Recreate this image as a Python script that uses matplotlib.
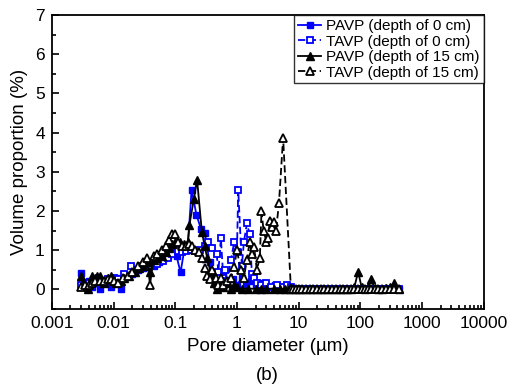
import matplotlib
matplotlib.use("Agg")
import matplotlib.pyplot as plt
import matplotlib.ticker as ticker
import numpy as np

plt.rcParams['font.family'] = ['Liberation Sans', 'DejaVu Sans']

# shared tail diameters (um), coarse pores beyond ~8 um
tail_d = [8, 9, 10, 11.5, 13, 15, 17, 20, 23, 26, 30, 35, 40, 46, 53, 60,
          70, 80, 92, 105, 120, 135, 150, 170, 195, 225, 260, 300, 350, 420]

# PAVP, depth 0 cm
pavp0_d = [0.003, 0.0035, 0.004, 0.0045, 0.005, 0.006, 0.007, 0.008, 0.009,
           0.011, 0.013, 0.016, 0.02, 0.025, 0.03, 0.036, 0.045, 0.055,
           0.065, 0.075, 0.09, 0.105, 0.122, 0.14, 0.16, 0.184, 0.221,
           0.26, 0.30, 0.36, 0.42, 0.5, 0.6, 0.7, 0.85, 1.0, 1.2, 1.4, 1.7,
           2.0, 2.4, 2.9, 3.5, 4.2, 5, 6, 7] + tail_d
pavp0_v = [0.42, 0.1, 0.2, 0.05, 0.15, 0.0, 0.2, 0.15, 0.05,
           0.3, 0.0, 0.35, 0.4, 0.5, 0.55, 0.65, 0.6, 0.7,
           0.8, 0.85, 1.0, 0.85, 0.43, 1.0, 1.1, 2.54, 1.9,
           1.55, 1.45, 0.7, 0.3, 0.2, 0.35, 0.15, 0.25, 0.1, 0.3, 0.12, 0.2,
           0.1, 0.15, 0.08, 0.05, 0.1, 0.05, 0.03, 0.03] + \
          [0.02, 0.02, 0.01, 0.02, 0.01, 0.01, 0.02, 0.01, 0.01, 0.01, 0.01,
           0.01, 0.01, 0.01, 0.01, 0.01, 0.01, 0.01, 0.02, 0.01, 0.01, 0.01,
           0.02, 0.01, 0.01, 0.01, 0.01, 0.01, 0.02, 0.01]

# TAVP, depth 0 cm
tavp0_d = [0.003, 0.0035, 0.004, 0.0045, 0.005, 0.006, 0.007, 0.008, 0.01,
           0.012, 0.015, 0.019, 0.024, 0.029, 0.034, 0.04, 0.05, 0.063,
           0.075, 0.09, 0.11, 0.13, 0.15, 0.18, 0.21, 0.25, 0.30, 0.34,
           0.40, 0.47, 0.5, 0.55, 0.6, 0.65, 0.7, 0.8, 0.9, 1.0, 1.05, 1.2,
           1.3, 1.45, 1.6, 1.75, 1.9, 2.1, 2.5, 3.0, 3.5, 4.5, 5.5, 6.5,
           7.5] + tail_d
tavp0_v = [0.1, 0.1, 0.15, 0.12, 0.2, 0.18, 0.2, 0.25, 0.3,
           0.25, 0.4, 0.6, 0.5, 0.6, 0.68, 0.6, 0.65, 0.72,
           0.8, 0.9, 0.97, 0.95, 0.97, 1.0, 0.98, 1.0, 1.1, 1.2,
           1.05, 0.9, 0.45, 1.3, 0.3, 0.5, 0.2, 0.74, 1.2, 0.95, 2.54, 0.6,
           1.22, 1.68, 1.42, 0.4, 0.3, 0.15, 0.1, 0.15, 0.05, 0.1, 0.05, 0.1,
           0.05] + \
          [0.02, 0.01, 0.02, 0.01, 0.02, 0.01, 0.01, 0.02, 0.01, 0.01, 0.01,
           0.01, 0.02, 0.01, 0.01, 0.01, 0.01, 0.01, 0.01, 0.02, 0.01, 0.01,
           0.01, 0.01, 0.01, 0.02, 0.01, 0.01, 0.01, 0.02]

# PAVP, depth 15 cm
pavp15_d = [0.003, 0.0033, 0.0038, 0.0045, 0.005, 0.0055, 0.006, 0.007,
            0.008, 0.009, 0.01, 0.011, 0.013, 0.015, 0.018, 0.022, 0.026,
            0.03, 0.035, 0.039, 0.045, 0.05, 0.06, 0.07, 0.08, 0.09, 0.1,
            0.12, 0.14, 0.16, 0.17, 0.2, 0.226, 0.27, 0.3, 0.33, 0.38, 0.42,
            0.47, 0.5, 0.55, 0.6, 0.7, 0.8, 0.9, 1.0, 1.2, 1.5, 2.0, 2.5,
            3.0, 4.0, 5.0, 6.0, 7.0] + tail_d
pavp15_v = [0.35, 0.1, 0.0, 0.35, 0.3, 0.35, 0.35, 0.15,
            0.3, 0.35, 0.2, 0.15, 0.2, 0.3, 0.35, 0.45, 0.55,
            0.6, 0.7, 0.45, 0.75, 0.8, 0.85, 0.95, 1.05, 1.15, 1.2,
            1.2, 1.15, 1.2, 1.65, 2.3, 2.8, 1.47, 1.1, 0.8, 0.38, 0.15,
            0.0, 0.1, 0.25, 0.05, 0.15, 0.0, 0.1, 0.05, 0.0, 0.02, 0.01, 0.02,
            0.01, 0.02, 0.01, 0.01, 0.01] + \
           [0.02, 0.01, 0.01, 0.02, 0.01, 0.01, 0.01, 0.02, 0.01, 0.01, 0.01,
            0.01, 0.02, 0.01, 0.01, 0.01, 0.02, 0.05, 0.45, 0.05, 0.02, 0.05,
            0.25, 0.03, 0.02, 0.02, 0.03, 0.05, 0.15, 0.02]

# TAVP, depth 15 cm
tavp15_d = [0.003, 0.0035, 0.004, 0.0045, 0.005, 0.006, 0.007, 0.008,
            0.009, 0.01, 0.012, 0.014, 0.017, 0.02, 0.025, 0.03, 0.035,
            0.039, 0.045, 0.05, 0.06, 0.07, 0.08, 0.09, 0.1, 0.11, 0.13,
            0.15, 0.17, 0.19, 0.21, 0.24, 0.27, 0.3, 0.33, 0.36, 0.4, 0.45,
            0.5, 0.55, 0.6, 0.7, 0.8, 0.9, 1.0, 1.15, 1.3, 1.45, 1.6, 1.75,
            1.9, 2.1, 2.35, 2.5, 2.7, 3.0, 3.2, 3.4, 3.7, 4.0, 4.3, 4.8, 5.6,
            7.5] + tail_d
tavp15_v = [0.05, 0.1, 0.1, 0.15, 0.2, 0.2, 0.2, 0.25,
            0.25, 0.2, 0.15, 0.3, 0.35, 0.45, 0.6, 0.7, 0.8,
            0.12, 0.85, 0.9, 1.0, 1.1, 1.25, 1.4, 1.4, 1.2, 1.1,
            1.1, 1.15, 1.1, 1.0, 0.95, 0.8, 0.55, 0.35, 0.25, 0.5, 0.3,
            0.1, 0.3, 0.1, 0.2, 0.3, 0.56, 1.0, 0.5, 0.3, 0.76, 1.2, 0.9,
            1.07, 0.5, 0.8, 2.0, 1.5, 1.22, 1.3, 1.75, 1.6, 1.73, 1.5, 2.2,
            3.87, 0.0] + [0.0] * len(tail_d)

labels = ["PAVP (depth of 0 cm)", "TAVP (depth of 0 cm)",
          "PAVP (depth of 15 cm)", "TAVP (depth of 15 cm)"]

fig = plt.figure(figsize=(5.13, 3.89), dpi=100)
ax = fig.add_axes([0.101, 0.206, 0.842, 0.755])

dash = (0, (4, 2))
ax.plot(pavp0_d, pavp0_v, color='#0000ff', marker='s', ms=5, mfc='#0000ff',
        lw=1.3, label=labels[0])
ax.plot(tavp0_d, tavp0_v, color='#0000ff', marker='s', ms=5, mfc='white',
        mew=1.3, lw=1.3, ls=dash, label=labels[1])
ax.plot(pavp15_d, pavp15_v, color='black', marker='^', ms=5.5, mfc='black',
        lw=1.3, label=labels[2])
ax.plot(tavp15_d, tavp15_v, color='black', marker='^', ms=5.5, mfc='white',
        mew=1.3, lw=1.3, ls=dash, label=labels[3])

ax.set_xscale('log')
ax.set_xlim(0.001, 10000)
ax.set_ylim(-0.5, 7)
ax.set_xticks([0.001, 0.01, 0.1, 1, 10, 100, 1000, 10000])
ax.set_xticklabels(["0.001", "0.01", "0.1", "1", "10", "100", "1000", "10000"])
ax.xaxis.set_minor_locator(ticker.LogLocator(base=10, subs=np.arange(2, 10), numticks=20))
ax.xaxis.set_minor_formatter(ticker.NullFormatter())
ax.yaxis.set_major_locator(ticker.MultipleLocator(1))
ax.yaxis.set_minor_locator(ticker.MultipleLocator(0.5))

ax.tick_params(which='both', direction='in', top=False, right=False,
               labelsize=12.5, width=1.2)
ax.tick_params(which='major', length=5, pad=5)
ax.tick_params(which='minor', length=3)
for s in ax.spines.values():
    s.set_linewidth(1.3)

ax.set_xlabel("Pore diameter (µm)", fontsize=13.5, labelpad=5)
ax.set_ylabel("Volume proportion (%)", fontsize=13.5, labelpad=5)

leg = ax.legend(loc='upper right', fontsize=11, frameon=True, fancybox=False,
                edgecolor='black', borderaxespad=0, handlelength=1.5,
                handletextpad=0.35, labelspacing=0.1, borderpad=0.25)
leg.get_frame().set_linewidth(1.0)

fig.text(0.522, 0.035, "(b)", ha='center', va='center', fontsize=13.5)

fig.savefig("out.png", dpi=100)
